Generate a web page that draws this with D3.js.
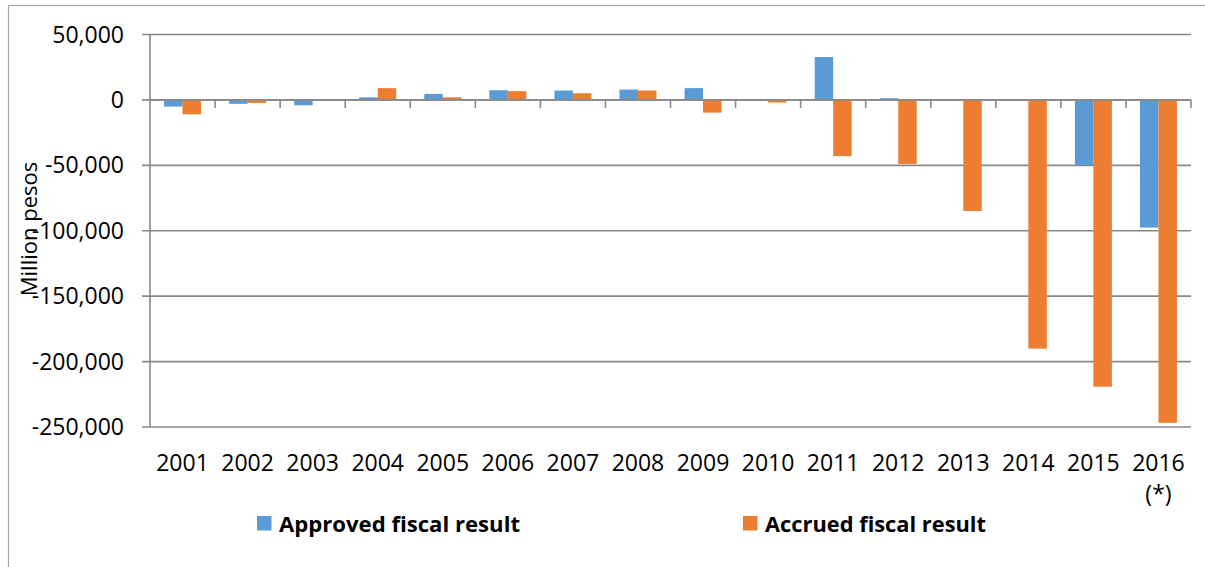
<!DOCTYPE html>
<html>
<head>
<meta charset="utf-8">
<script src="https://cdn.jsdelivr.net/npm/d3@7"></script>
<style>
  html, body { margin: 0; padding: 0; background: #fff; }
  svg { display: block; }
  text { font-family: "Open Sans", "Liberation Sans", sans-serif; fill: #000; }
</style>
</head>
<body>
<svg id="chart" width="1205" height="567"></svg>
<script>
const years = ["2001","2002","2003","2004","2005","2006","2007","2008","2009","2010","2011","2012","2013","2014","2015","2016"];
const yearNotes = ["","","","","","","","","","","","","","","","(*)"];
const approved = [-5100, -3000, -4100, 2000, 4600, 7400, 7200, 7900, 9000, 0, 32800, 1300, 0, 0, -49700, -97600];
const accrued = [-11000, -2300, 700, 9000, 2000, 6700, 5100, 7200, -9700, -2000, -43000, -48900, -84900, -190100, -219200, -246800];
const seriesNames = ["Approved fiscal result", "Accrued fiscal result"];
const seriesColors = ["#5B9BD5", "#ED7D31"];
const yTickValues = [50000, 0, -50000, -100000, -150000, -200000, -250000];
const yTickLabels = ["50,000", "0", "-50,000", "-100,000", "-150,000", "-200,000", "-250,000"];
const yTitle = "Million pesos";

const svg = d3.select("#chart");
const gridColor = "#888888";

// outer chart border (extends past the viewport right/bottom)
svg.append("rect").attr("x", 8.5).attr("y", 5.5).attr("width", 1300).attr("height", 700)
  .attr("fill", "none").attr("stroke", "#a6a6a6").attr("stroke-width", 1.2);

const plot = { left: 150, right: 1191, top: 34.5, bottom: 427 };

const x = d3.scaleBand().domain(years).range([plot.left, plot.right]).padding(0);
const xs = d3.scaleBand().domain(seriesNames).range([0, x.bandwidth()]).paddingInner(0).paddingOuter(0.76);
const y = d3.scaleLinear().domain([-250000, 50000]).range([plot.bottom, plot.top]);

// gridlines + left tick stubs
svg.append("g").selectAll("line").data(yTickValues).join("line")
  .attr("x1", plot.left - 8).attr("x2", plot.right)
  .attr("y1", d => y(d)).attr("y2", d => y(d))
  .attr("stroke", gridColor).attr("stroke-width", 1.6);

// y axis line
svg.append("line").attr("x1", plot.left).attr("x2", plot.left)
  .attr("y1", y(50000)).attr("y2", y(-250000))
  .attr("stroke", gridColor).attr("stroke-width", 1.6);

// y tick labels
svg.append("g").selectAll("text").data(yTickValues).join("text")
  .attr("x", 124).attr("y", d => y(d)).attr("dy", "0.35em")
  .attr("text-anchor", "end").attr("font-size", 23)
  .text((d, i) => yTickLabels[i]);

// bars
const rows = years.map((yr, i) => ({ year: yr, values: [approved[i], accrued[i]] }));
const groups = svg.append("g").selectAll("g").data(rows).join("g")
  .attr("transform", d => `translate(${x(d.year)},0)`);
groups.selectAll("rect").data(d => d.values.map((v, j) => ({ v, name: seriesNames[j], j })))
  .join("rect")
  .attr("x", d => xs(d.name))
  .attr("width", xs.bandwidth())
  .attr("y", d => Math.min(y(0), y(d.v)))
  .attr("height", d => Math.abs(y(d.v) - y(0)))
  .attr("fill", d => seriesColors[d.j]);

// zero axis line and category tick marks
svg.append("line").attr("x1", plot.left).attr("x2", plot.right)
  .attr("y1", y(0)).attr("y2", y(0))
  .attr("stroke", gridColor).attr("stroke-width", 1.8);
svg.append("g").selectAll("line").data(years).join("line")
  .attr("x1", d => x(d) + x.bandwidth()).attr("x2", d => x(d) + x.bandwidth())
  .attr("y1", y(0)).attr("y2", y(0) + 8)
  .attr("stroke", gridColor).attr("stroke-width", 1.6);

// x labels
const xl = svg.append("g").selectAll("text").data(years).join("text")
  .attr("x", d => x(d) + x.bandwidth() / 2)
  .attr("y", 471)
  .attr("text-anchor", "middle").attr("font-size", 23);
xl.append("tspan").text(d => d);
xl.append("tspan")
  .attr("x", d => x(d) + x.bandwidth() / 2)
  .attr("dy", 31)
  .text((d, i) => yearNotes[i]);

// y title
svg.append("text")
  .attr("transform", `translate(37,229) rotate(-90)`)
  .attr("text-anchor", "middle").attr("font-size", 22)
  .text(yTitle);

// legend
const legendX = [257, 743];
const legendTextW = [241, 221];
const lg = svg.append("g").selectAll("g").data(seriesNames).join("g")
  .attr("transform", (d, i) => `translate(${legendX[i]},516)`);
lg.append("rect").attr("width", 14.5).attr("height", 14.5).attr("fill", (d, i) => seriesColors[i]);
lg.append("text").attr("x", 22).attr("y", 15.5)
  .attr("font-size", 22).attr("font-weight", "bold")
  .attr("textLength", (d, i) => legendTextW[i]).attr("lengthAdjust", "spacingAndGlyphs")
  .text(d => d);
</script>
</body>
</html>
